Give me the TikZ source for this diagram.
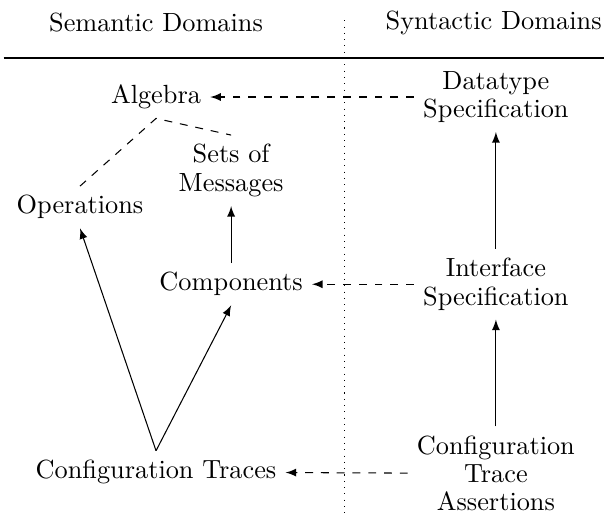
\documentclass[tikz,border=0pt]{standalone}
\begin{document}
\begin{tikzpicture}[
  dom/.style={align=center, font=\fontsize{10pt}{10.8pt}\selectfont},
  link/.style={dashed, -latex},
  lift/.style={-latex}]
  \useasboundingbox (0,0) rectangle (8.075,-6.872);
  \node[dom] (sem) at (2.086,-0.30) {Semantic Domains};
  \node[dom] (syn) at (6.60,-0.30) {Syntactic Domains};
  \draw (0.05,-0.775) -- (8.075,-0.775);
  \draw[dotted] (4.60,-0.27) -- (4.60,-6.872);
  \node[dom] (alg) at (2.086,-1.297) {Algebra};
  \node[dom] (dt) at (6.63,-1.297) {Datatype\\Specification};
  \node[dom] (sets) at (3.09,-2.28) {Sets of\\Messages};
  \node[dom] (ops) at (1.07,-2.77) {Operations};
  \node[dom] (comp) at (3.09,-3.80) {Components};
  \node[dom] (intf) at (6.63,-3.80) {Interface\\Specification};
  \node[dom] (ct) at (2.086,-6.31) {Configuration Traces};
  \node[dom] (cta) at (6.63,-6.33) {Configuration\\Trace\\Assertions};
  \draw[link] (dt) -- (alg);
  \draw[link] (intf) -- (comp);
  \draw[link] (cta) -- (ct);
  \draw[dashed] (ops.north) -- (alg.south) -- (sets.north);
  \draw[lift] (comp) -- (sets);
  \draw[lift] (intf) -- (dt);
  \draw[lift] (cta) -- (intf);
  \draw[lift] (ct.north) -- (ops.south);
  \draw[lift] (ct.north) -- (comp.south);
\end{tikzpicture}
\end{document}
